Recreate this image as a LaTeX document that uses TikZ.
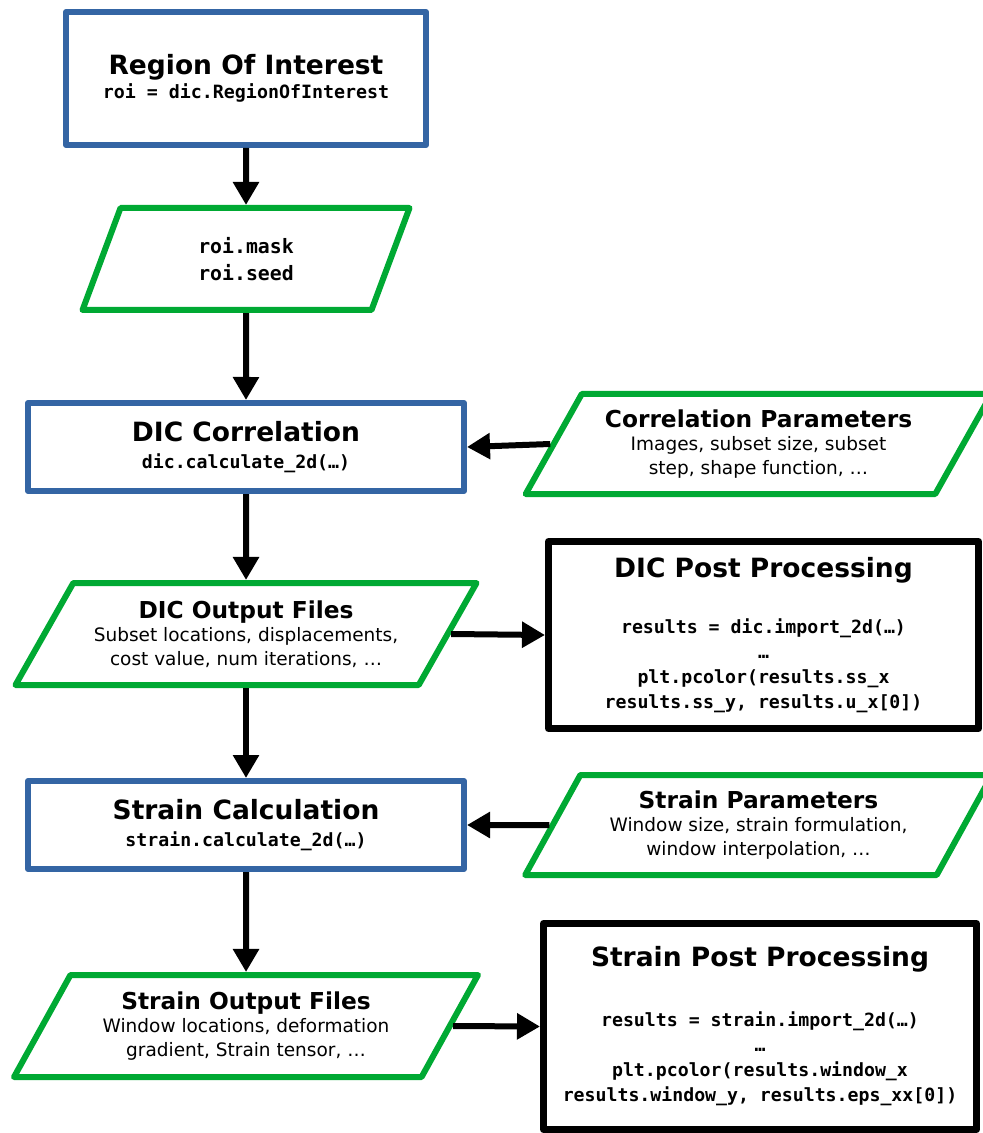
\documentclass[tikz,border=0pt]{standalone}
\usepackage{fontspec}
\setmainfont{DejaVu Sans}
\setmonofont{DejaVu Sans Mono}
\usetikzlibrary{arrows.meta,shapes.geometric}

\definecolor{procblue}{HTML}{3465A4}
\definecolor{datagreen}{HTML}{00A933}

\newcommand{\boxtitle}[1]{{\bfseries\fontsize{13.25}{13}\selectfont #1}}
\newcommand{\datatitle}[1]{{\bfseries\fontsize{11.65}{12}\selectfont #1}}
\newcommand{\code}[1]{{\ttfamily\bfseries #1}}

\begin{document}
\begin{tikzpicture}[x=0.5pt,y=-0.5pt,
	process/.style={draw=procblue,line width=3pt,line join=round,rectangle,minimum width=218pt,minimum height=44pt,align=center,inner sep=0pt,font=\fontsize{9.1}{13.5}\selectfont},
	data/.style={draw=datagreen,line width=3pt,line join=round,trapezium,trapezium stretches=true,trapezium left angle=#1,trapezium right angle={180-#1},minimum height=51pt,align=center,inner sep=0pt,font=\fontsize{9.25}{11.75}\selectfont},
	post/.style={draw=black,line width=3.5pt,line join=round,rectangle,align=center,inner sep=0pt,font=\fontsize{9.1}{12.5}\selectfont},
	flow/.style={line width=3pt,-{Triangle[length=11.5pt,width=12.5pt]}}]
	\useasboundingbox (0,0) rectangle (983,1133);
	\clip (0,0) rectangle (983,1133);
	
	%MAIN COLUMN
	\node[process,minimum width=180pt,minimum height=66.5pt,font=\fontsize{9.15}{12}\selectfont] (roi) at (246,78.5) {\boxtitle{Region Of Interest}\\ \code{roi = dic.RegionOfInterest}};
	\node[data=71.6,minimum width=163.5pt,font=\fontsize{9.9}{13.5}\selectfont] (mask) at (246,259) {\code{roi.mask}\\ \code{roi.seed}};
	\node[process] (corr) at (246,447) {\boxtitle{DIC Correlation}\\ \code{dic.calculate\_2d(…)}};
	\node[data=52.7,minimum width=231pt] (dout) at (246,634) {\datatitle{DIC Output Files}\\ Subset locations, displacements,\\ cost value, num iterations, …};
	\node[process] (scalc) at (246,825) {\boxtitle{Strain Calculation}\\ \code{strain.calculate\_2d(…)}};
	\node[data=56.1,minimum width=232pt] (sout) at (246,1026) {\datatitle{Strain Output Files}\\ Window locations, deformation\\ gradient, Strain tensor, …};
	
	%RIGHT COLUMN
	\node[data=54.6,minimum width=233.5pt,minimum height=50pt] (cparam) at (758.5,444) {\datatitle{Correlation Parameters}\\ Images, subset size, subset\\ step, shape function, …};
	\node[post,minimum width=215pt,minimum height=93.5pt] (dpost) at (763.5,635) {\boxtitle{DIC Post Processing}\\[15.5pt] \code{results = dic.import\_2d(…)}\\ \code{…}\\ \code{plt.pcolor(results.ss\_x}\\ \code{results.ss\_y, results.u\_x[0])}};
	\node[data=56.1,minimum width=233.5pt,minimum height=50pt] (sparam) at (758.5,825) {\datatitle{Strain Parameters}\\ Window size, strain formulation,\\ window interpolation, …};
	\node[post,minimum width=216.5pt,minimum height=103pt] (spost) at (760,1026.5) {\boxtitle{Strain Post Processing}\\[17.5pt] \code{results = strain.import\_2d(…)}\\ \code{…}\\ \code{plt.pcolor(results.window\_x}\\ \code{results.window\_y, results.eps\_xx[0])}};
	
	%ARROWS
	\draw[flow] (roi) -- (mask);
	\draw[flow] (mask) -- (corr);
	\draw[flow] (corr) -- (dout);
	\draw[flow] (dout) -- (scalc);
	\draw[flow] (scalc) -- (sout);
	%
	\draw[flow] (cparam.west) -- (corr.east);
	\draw[flow] (sparam.west) -- (scalc.east);
	\draw[flow] (dout.east) -- (dpost.west);
	\draw[flow] (sout.east) -- (spost.west);
\end{tikzpicture}
\end{document}
